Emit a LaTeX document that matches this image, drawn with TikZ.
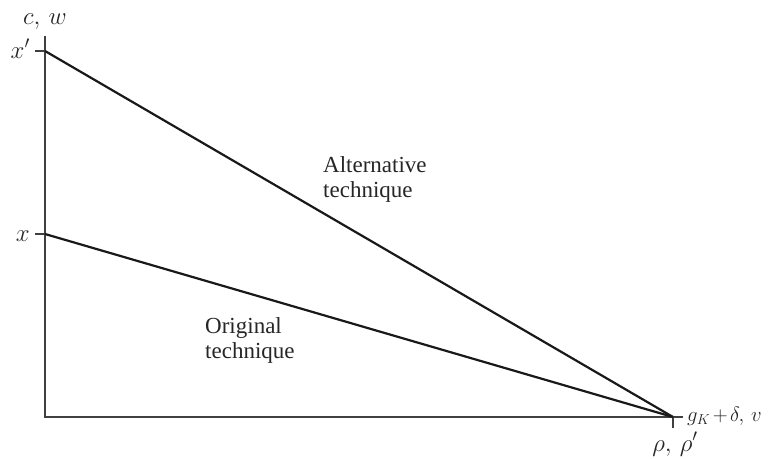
\documentclass[tikz,border=0pt]{standalone}
\usepackage{fontspec}
\setmainfont{Liberation Serif}
\begin{document}
\begin{tikzpicture}[x=1pt,y=-1pt,
  axis/.style={line width=1.3pt,draw=black!75},
  tech/.style={line width=2.2pt,draw=black!90},
  lbl/.style={font=\fontsize{23}{28}\selectfont,text=black!85,inner sep=0pt},
  mlbl/.style={font=\fontsize{23}{28}\selectfont,text=black!85,inner sep=0pt}]
\useasboundingbox (0,0) rectangle (775,458);
\coordinate (O) at (45,417);
\coordinate (ytop) at (45,36);
\coordinate (xend) at (683,417);
\coordinate (xp) at (45,51);
\coordinate (xx) at (45,234);
\coordinate (R) at (673,417);
\coordinate (xpt) at (35,51);
\coordinate (xxt) at (35,234);
\coordinate (Rt) at (673,428);
\draw[axis] (ytop) -- (O) -- (xend);
\draw[axis] (xpt) -- (xp);
\draw[axis] (xxt) -- (xx);
\draw[axis] (R) -- (Rt);
\draw[tech] (xp) -- (R);
\draw[tech] (xx) -- (R);
\node[mlbl,anchor=base] (cw) at (45,24) {$c,\, w$};
\node[mlbl,anchor=base east] (lxp) at (30,58) {$x'$};
\node[mlbl,anchor=base east] (lx) at (30,241) {$x$};
\node[mlbl,anchor=base west,font=\fontsize{22}{26}\selectfont] (lg) at (687,421) {$g_K\mkern-2mu+\mkern-2mu\delta,\,v$};
\node[mlbl,anchor=base] (lr) at (675,451) {$\rho,\, \rho'$};
\node[lbl,anchor=base west] (alt) at (323,172) {Alternative};
\node[lbl,anchor=base west] (alt2) at (323,197) {technique};
\node[lbl,anchor=base west] (org) at (205,333) {Original};
\node[lbl,anchor=base west] (org2) at (205,358) {technique};
\end{tikzpicture}
\end{document}
